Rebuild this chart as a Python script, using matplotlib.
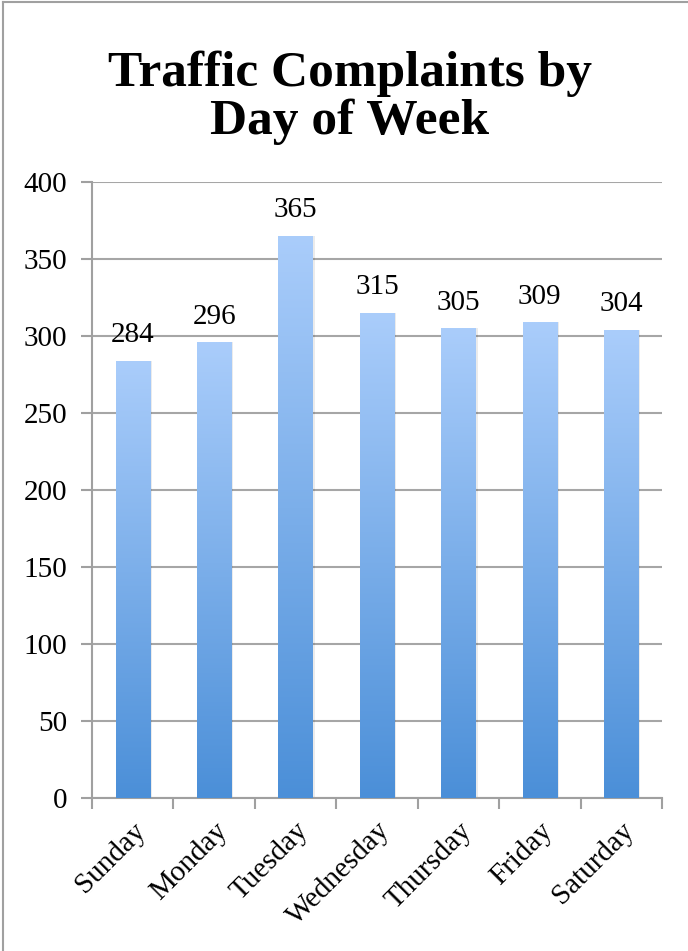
import numpy as np
import matplotlib
matplotlib.use("Agg")
import matplotlib.pyplot as plt
from matplotlib.colors import LinearSegmentedColormap
from matplotlib.lines import Line2D

# data
days = ['Sunday', 'Monday', 'Tuesday', 'Wednesday', 'Thursday', 'Friday', 'Saturday']
complaints = [284, 296, 365, 315, 305, 309, 304]
yticks = [0, 50, 100, 150, 200, 250, 300, 350, 400]

plt.rcParams['font.family'] = ['Liberation Serif', 'DejaVu Serif']

fig = plt.figure(figsize=(6.88, 9.51), dpi=100)
ax = fig.add_axes([92/688, 1-798/951, 570/688, 616/951])

x = np.arange(len(days))
bars = ax.bar(x, complaints, width=0.42, color='none', zorder=3)

# gradient fill, light at top, darker at the bottom of each bar
cmap = LinearSegmentedColormap.from_list('blu', ['#4b8fd8', '#aacdfb'])
grad = np.linspace(0, 1, 256).reshape(-1, 1)
for b in bars:
    x0, w, h = b.get_x(), b.get_width(), b.get_height()
    # soft shadow on the right
    ax.bar(x0 + w/2 + 0.025, h, width=w, bottom=0, color='#000000', alpha=0.08, zorder=2)
    im = ax.imshow(grad, cmap=cmap, origin='lower', aspect='auto',
                   extent=[x0, x0 + w, 0, h], zorder=3)
    im.set_clip_path(b)

ax.bar_label(bars, labels=[str(v) for v in complaints], padding=9, fontsize=21)

ax.set_xlim(-0.5, len(days) - 0.5)
ax.set_ylim(0, 400)
ax.set_yticks(yticks)
ax.set_xticks(x)
ax.set_xticklabels(days, rotation=45, ha='right', rotation_mode='anchor', fontsize=21)
ax.set_xticks(np.arange(-0.5, len(days)), minor=True)
ax.tick_params(axis='x', which='major', length=0, pad=14)
ax.tick_params(axis='x', which='minor', length=8, width=1.5, color='#a0a0a0', direction='out')
ax.tick_params(axis='y', labelsize=21, length=8, width=1.5, color='#a0a0a0', pad=10)

ax.grid(axis='y', color='#a6a6a6', linewidth=1.5, zorder=0)
ax.set_axisbelow(True)
for s in ['top', 'right']:
    ax.spines[s].set_visible(False)
for s in ['left', 'bottom']:
    ax.spines[s].set_color('#a0a0a0')
    ax.spines[s].set_linewidth(1.5)

fig.text(0.508, 1-86/951, 'Traffic Complaints by', ha='center', va='baseline',
         fontsize=37, fontweight='bold')
fig.text(0.508, 1-134/951, 'Day of Week', ha='center', va='baseline',
         fontsize=37, fontweight='bold')

# chart area border (top and left visible)
fig.add_artist(Line2D([3/688, 3/688], [0, 1-2/951], transform=fig.transFigure, color='#a0a0a0', lw=1.5))
fig.add_artist(Line2D([3/688, 1], [1-2/951, 1-2/951], transform=fig.transFigure, color='#a0a0a0', lw=1.5))

fig.savefig('out.png', dpi=100)
